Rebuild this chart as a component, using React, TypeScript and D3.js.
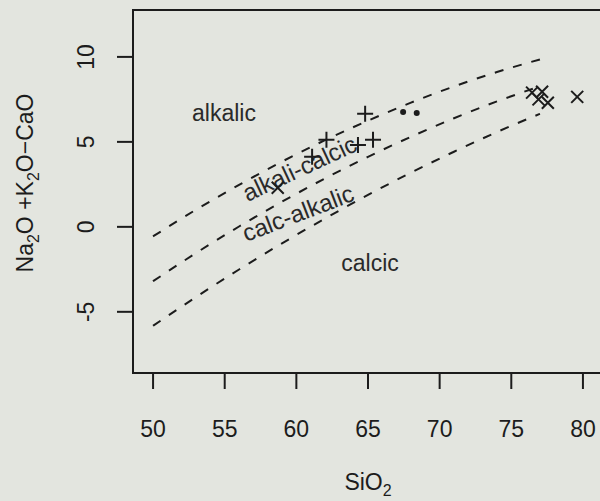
import * as React from 'react';
import { useEffect, useRef } from 'react';
import * as d3 from 'd3';

// boundary curves (SiO2 -> Na2O+K2O-CaO)
const curveSiO2 = [50, 53, 56, 59, 62, 65, 68, 71, 74, 77];
const alkalicLine = [-0.56, 1.01, 2.47, 3.84, 5.1, 6.25, 7.31, 8.26, 9.11, 9.85];
const alkaliCalcicLine = [-3.2, -1.54, 0.02, 1.48, 2.85, 4.12, 5.3, 6.39, 7.38, 8.27];
const calcAlkalicLine = [-5.82, -4.13, -2.51, -0.97, 0.49, 1.88, 3.19, 4.42, 5.58, 6.65];

// samples
const plusSiO2 = [64.8, 62.1, 61.1, 65.35, 64.3];
const plusMali = [6.65, 5.12, 4.12, 5.12, 4.82];
const crossSiO2 = [58.7, 76.45, 77.15, 77.55, 76.9, 79.6];
const crossMali = [2.3, 7.9, 7.95, 7.3, 7.5, 7.65];
const dotSiO2 = [67.45, 68.4];
const dotMali = [6.76, 6.7];

const xTicks = [50, 55, 60, 65, 70, 75, 80];
const yTicks = [-5, 0, 5, 10];

const W = 600;
const H = 501;
const FONT = 'Liberation Sans, Arial, Helvetica, sans-serif';
const INK = '#1c1c1c';

export default function App() {
  const ref = useRef<SVGSVGElement>(null);

  useEffect(() => {
    const svg = d3.select(ref.current);
    svg.selectAll('*').remove();

    const x = d3.scaleLinear().domain([48.6, 81.4]).range([133, 603]);
    const y = d3.scaleLinear().domain([-8.6, 12.76]).range([373, 10]);

    svg.append('rect').attr('width', W).attr('height', H).style('fill', '#e3e5df');

    svg.append('rect')
      .attr('x', x(48.6)).attr('y', y(12.76))
      .attr('width', x(81.4) - x(48.6)).attr('height', y(-8.6) - y(12.76))
      .style('fill', 'none').style('stroke', INK).style('stroke-width', 2);

    // x axis
    const xa = svg.append('g').attr('transform', `translate(0,${y(-8.6)})`);
    xTicks.forEach(t => {
      xa.append('line').attr('x1', x(t)).attr('x2', x(t)).attr('y1', 0).attr('y2', 16)
        .style('stroke', INK).style('stroke-width', 2);
      xa.append('text').attr('x', x(t)).attr('y', 64).attr('text-anchor', 'middle')
        .style('font-family', FONT).style('font-size', '23px').style('fill', INK).text(t);
    });
    const xt = svg.append('text').attr('x', 368).attr('y', 490).attr('text-anchor', 'middle')
      .style('font-family', FONT).style('font-size', '23px').style('fill', INK);
    xt.append('tspan').text('SiO');
    xt.append('tspan').attr('dy', 6).style('font-size', '16px').text('2');

    // y axis
    const ya = svg.append('g').attr('transform', `translate(${x(48.6)},0)`);
    yTicks.forEach(t => {
      ya.append('line').attr('x1', 0).attr('x2', -16).attr('y1', y(t)).attr('y2', y(t))
        .style('stroke', INK).style('stroke-width', 2);
      ya.append('text').attr('transform', `translate(-39,${y(t)}) rotate(-90)`)
        .attr('text-anchor', 'middle')
        .style('font-family', FONT).style('font-size', '23px').style('fill', INK).text(t);
    });
    const yt = svg.append('text').attr('transform', `translate(33,183) rotate(-90)`)
      .attr('text-anchor', 'middle')
      .style('font-family', FONT).style('font-size', '23px').style('fill', INK);
    yt.append('tspan').text('Na');
    yt.append('tspan').attr('dy', 6).style('font-size', '16px').text('2');
    yt.append('tspan').attr('dy', -6).text('O +K');
    yt.append('tspan').attr('dy', 6).style('font-size', '16px').text('2');
    yt.append('tspan').attr('dy', -6).text('O\u2212CaO');

    // boundary curves
    const line = d3.line<number>()
      .x((_, i) => x(curveSiO2[i]))
      .y(d => y(d))
      .curve(d3.curveMonotoneX);
    [alkalicLine, alkaliCalcicLine, calcAlkalicLine].forEach(vals => {
      svg.append('path').datum(vals).attr('d', line)
        .style('fill', 'none').style('stroke', INK).style('stroke-width', 2)
        .style('stroke-dasharray', '9 10');
    });

    // field labels
    const label = (txt: string, cx: number, cy: number, rot: number, size = 23) =>
      svg.append('text').attr('transform', `translate(${cx},${cy}) rotate(${rot})`)
        .attr('text-anchor', 'middle')
        .style('font-family', FONT).style('font-size', `${size}px`).style('fill', '#2a2a2a').text(txt);
    label('alkalic', 224, 121, 0);
    label('calcic', 370, 271, 0);
    label('alkali-calcic', 303, 176, -25, 24);
    label('calc-alkalic', 301, 221, -21, 24);

    // points
    const pts = svg.append('g').style('stroke', INK).style('stroke-width', 2);
    plusSiO2.forEach((s, i) => {
      const px = x(s), py = y(plusMali[i]);
      pts.append('path').attr('d', `M${px - 8},${py}H${px + 8}M${px},${py - 8}V${py + 8}`);
    });
    crossSiO2.forEach((s, i) => {
      const px = x(s), py = y(crossMali[i]);
      pts.append('path').attr('d', `M${px - 6},${py - 6}L${px + 6},${py + 6}M${px - 6},${py + 6}L${px + 6},${py - 6}`);
    });
    dotSiO2.forEach((s, i) => {
      svg.append('circle').attr('cx', x(s)).attr('cy', y(dotMali[i])).attr('r', 3)
        .style('fill', INK);
    });
  }, []);

  return (
    <svg ref={ref} width={W} height={H}
      style={{ position: 'absolute', left: 0, top: 0, display: 'block' }} />
  );
}
